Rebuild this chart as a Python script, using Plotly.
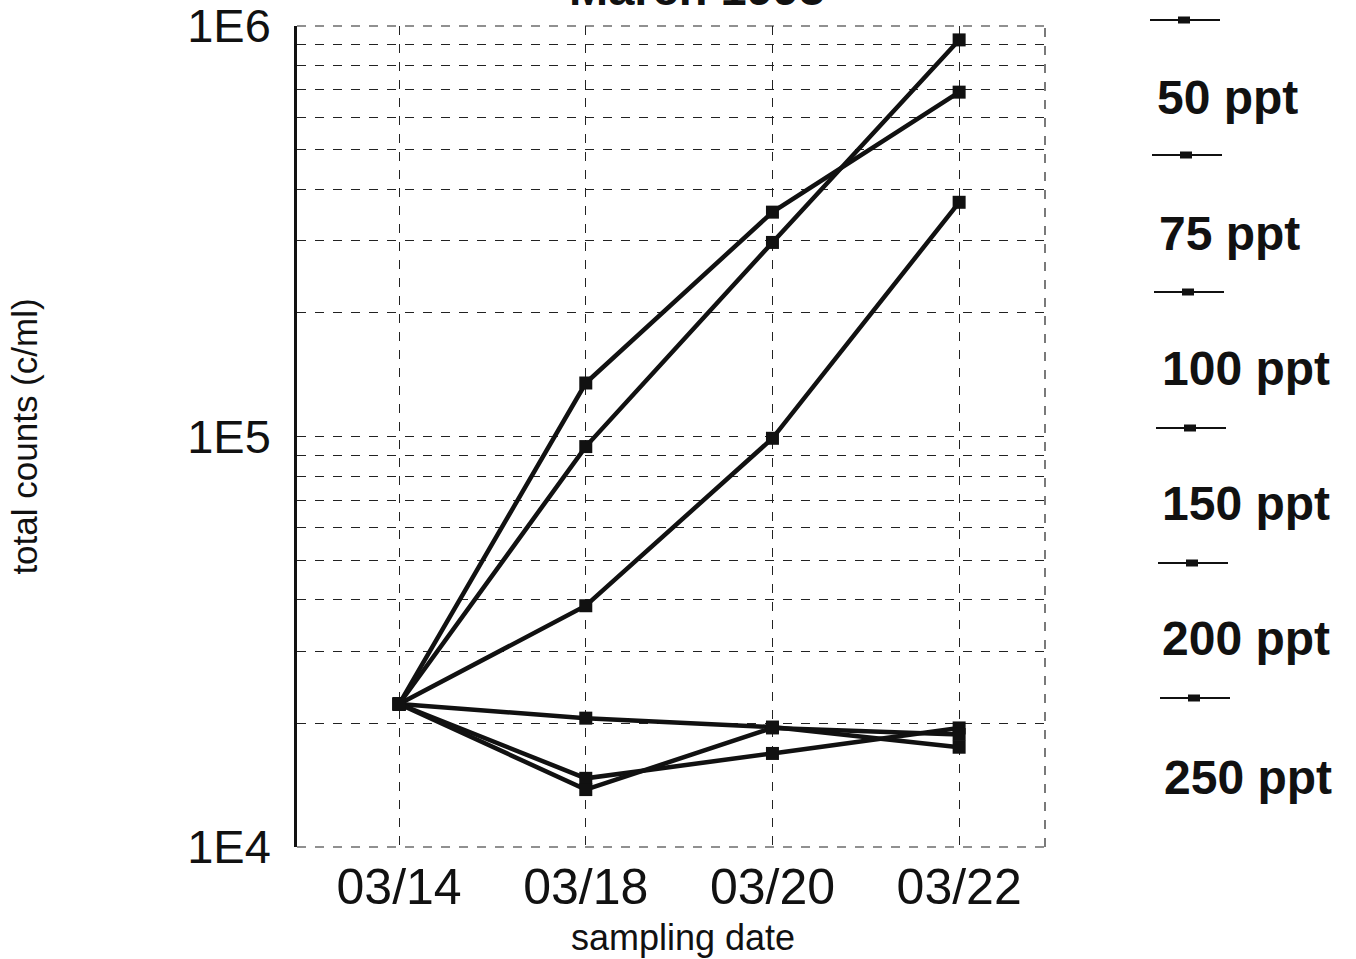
import plotly.graph_objects as go

# Sampling dates (category axis)
dates = ["03/14", "03/18", "03/20", "03/22"]

# Total counts (cells/ml) per salinity treatment
counts_50 = [22300, 135000, 352000, 690000]
counts_75 = [22300, 94500, 297000, 925000]
counts_100 = [22300, 38700, 99000, 372000]
counts_150 = [22300, 20600, 19600, 17500]
counts_200 = [22300, 14700, 16900, 19500]
counts_250 = [22300, 13800, 19500, 18800]

series_names = ["50 ppt", "75 ppt", "100 ppt", "150 ppt", "200 ppt", "250 ppt"]
series_values = [counts_50, counts_75, counts_100, counts_150, counts_200, counts_250]

# Log axis ticks: labelled decades, gridlines on every 1..9 step
decades = [1e4, 1e5, 1e6]
decade_labels = ["1E4", "1E5", "1E6"]

FONT = "Liberation Sans, Arial, sans-serif"

fig = go.Figure()
for name, vals in zip(series_names, series_values):
    fig.add_trace(go.Scatter(
        x=dates, y=vals, name=name, mode="lines+markers",
        line=dict(color="#111111", width=4.5),
        marker=dict(symbol="square", size=13, color="#111111"),
        showlegend=False,
    ))

tickvals = []
ticktext = []
for d, lab in zip(decades, decade_labels):
    tickvals.append(d)
    ticktext.append(lab)
    if d < decades[-1]:
        for k in range(2, 10):
            tickvals.append(d * k)
            ticktext.append("")

L, R, T, B = 297, 311, 26, 112
W, H = 1356, 959

fig.update_layout(
    width=W, height=H,
    margin=dict(l=L, r=R, t=T, b=B),
    paper_bgcolor="white", plot_bgcolor="white",
    font=dict(family=FONT, color="#111111"),
    xaxis=dict(
        type="category", range=[-0.547, 3.46], automargin=False,
        showgrid=True, gridcolor="#222222", gridwidth=1, griddash="dash",
        zeroline=False, showline=False, ticks="",
        tickfont=dict(size=50, family=FONT),
        ticklabelstandoff=6,
    ),
    yaxis=dict(
        type="log", range=[4, 6], automargin=False,
        tickvals=tickvals, ticktext=ticktext, ticklabeloverflow="allow",
        showgrid=True, gridcolor="#222222", gridwidth=1, griddash="dash",
        zeroline=False, showline=True, linecolor="#111111", linewidth=2.5,
        ticks="", tickfont=dict(size=47, family=FONT),
        ticklabelstandoff=14,
        title=dict(text="total counts (c/ml)", font=dict(size=35, family=FONT), standoff=139),
    ),
)

def px_x(x):
    return (x - L) / (W - L - R)

def px_y(y):
    return (H - B - y) / (H - B - T)

# Frame of the plot area: dashed top, bottom and right edges
for x0, x1, y0, y1 in [(1, 1, 0, 1), (0, 1, 1, 1), (0, 1, 0, 0)]:
    fig.add_shape(type="line", xref="paper", yref="paper", x0=x0, x1=x1, y0=y0, y1=y1,
                  line=dict(color="#222222", width=1.2, dash="dash"))

# X axis title
fig.add_annotation(text="sampling date", xref="paper", yref="paper",
                   x=px_x(683), y=px_y(937), xanchor="center", yanchor="middle",
                   showarrow=False, font=dict(size=36, family=FONT, color="#111111"))

# Chart title, partly above the page edge
fig.add_annotation(text="<b>March 1995</b>", xref="paper", yref="paper",
                   x=px_x(697), y=1, xanchor="center", yanchor="bottom", yshift=9,
                   showarrow=False, font=dict(size=47, family=FONT, color="#111111"))

# Hand-built legend: line sample above each label
line_y = [20, 155, 292, 428, 563, 698]
label_y = [97, 233, 368, 503, 638, 777]
label_x = [1155, 1157, 1160, 1160, 1160, 1162]
for i, name in enumerate(series_names):
    ly = line_y[i]
    x0 = 1150 + i * 2
    fig.add_shape(type="line", xref="paper", yref="paper",
                  x0=px_x(x0), x1=px_x(x0 + 70), y0=px_y(ly), y1=px_y(ly),
                  line=dict(color="#111111", width=2))
    cx = x0 + 34
    fig.add_shape(type="rect", xref="paper", yref="paper",
                  x0=px_x(cx - 6), x1=px_x(cx + 6), y0=px_y(ly + 3.5), y1=px_y(ly - 3.5),
                  line=dict(width=0), fillcolor="#111111")
    fig.add_annotation(text="<b>" + name + "</b>", xref="paper", yref="paper",
                       x=px_x(label_x[i]), y=px_y(label_y[i]),
                       xanchor="left", yanchor="middle", showarrow=False,
                       font=dict(size=48, family=FONT, color="#111111"))

fig.write_html("out.html")
